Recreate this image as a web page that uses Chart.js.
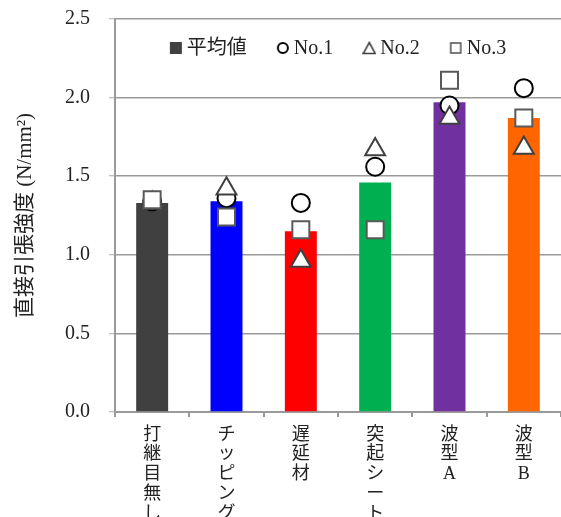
<!DOCTYPE html>
<html>
<head>
<meta charset="utf-8">
<script src="https://cdn.jsdelivr.net/npm/chart.js@4/dist/chart.umd.min.js"></script>
<style>
  html, body { margin: 0; padding: 0; background: #fff; }
  #wrap { width: 561px; height: 517px; }
</style>
</head>
<body>
<div id="wrap"><canvas id="c" width="561" height="517"></canvas></div>
<script>
// ---- data ----
const categories = ['打継目無し', 'チッピング', '遅延材', '突起シート', '波型A', '波型B'];
const seriesNames = ['平均値', 'No.1', 'No.2', 'No.3'];
const meanValues = [1.33, 1.34, 1.15, 1.46, 1.97, 1.87];
const no1Values  = [1.34, 1.36, 1.33, 1.56, 1.95, 2.06];
const no2Values  = [1.33, 1.42, 0.96, 1.67, 1.87, 1.68];
const no3Values  = [1.35, 1.24, 1.16, 1.16, 2.11, 1.87];
const yTicks     = [0.0, 0.5, 1.0, 1.5, 2.0, 2.5];
const yTitle     = '直接引張強度 (N/mm²)';

// ---- styles ----
const barColors = ['#404040', '#0000FF', '#FF0000', '#00B050', '#7030A0', '#FF6600'];
const FONT = "'Liberation Serif', 'Noto Sans CJK JP', serif";
const GRID = '#9a9a9a';

function legendMarker(kind) {
  const cv = document.createElement('canvas');
  cv.width = 14; cv.height = 14;
  const g = cv.getContext('2d');
  g.lineWidth = 1.6;
  if (kind === 'bar') {
    g.fillStyle = '#404040';
    g.fillRect(1, 1, 12, 12);
  } else if (kind === 'circle') {
    g.fillStyle = '#fff'; g.strokeStyle = '#000'; g.lineWidth = 2;
    g.beginPath(); g.arc(7, 7, 5, 0, Math.PI * 2); g.fill(); g.stroke();
  } else if (kind === 'triangle') {
    g.fillStyle = '#fff'; g.strokeStyle = '#404040';
    g.beginPath(); g.moveTo(7, 1.5); g.lineTo(13, 12.5); g.lineTo(1, 12.5); g.closePath(); g.fill(); g.stroke();
  } else {
    g.fillStyle = '#fff'; g.strokeStyle = '#595959';
    g.fillRect(2, 2, 10, 10); g.strokeRect(2, 2, 10, 10);
  }
  return cv;
}
const legendMarkers = [legendMarker('bar'), legendMarker('circle'), legendMarker('triangle'), legendMarker('rect')];

// Legend drawn inside the plot area (horizontal row near the top)
const insideLegend = {
  id: 'insideLegend',
  afterDatasetsDraw(chart) {
    const ctx = chart.ctx;
    const area = chart.chartArea;
    const markerGap = 5, itemGap = 30, markerW = 12;
    ctx.save();
    ctx.font = "20px " + FONT;
    ctx.textBaseline = 'middle';
    ctx.fillStyle = '#222';
    const names = chart.data.datasets.map(d => d.label);
    const widths = names.map(t => markerW + markerGap + ctx.measureText(t).width);
    const total = widths.reduce((a, b) => a + b, 0) + itemGap * (names.length - 1);
    let x = (area.left + area.right) / 2 - total / 2;
    const y = area.top + 29;
    names.forEach((t, i) => {
      const m = legendMarkers[i];
      ctx.drawImage(m, x + markerW / 2 - m.width / 2, y - m.height / 2);
      ctx.fillText(t, x + markerW + markerGap, y + 1);
      x += widths[i] + itemGap;
    });
    ctx.restore();
  }
};

const pointDs = (label, data, style, radius, border, order) => ({
  type: 'line', label, data, showLine: false, order,
  pointStyle: style, pointRadius: radius, pointHoverRadius: radius,
  pointBackgroundColor: '#ffffff', pointBorderColor: border, pointBorderWidth: 2
});

new Chart(document.getElementById('c'), {
  type: 'bar',
  plugins: [insideLegend],
  data: {
    labels: categories,
    datasets: [
      { type: 'bar', label: seriesNames[0], data: meanValues, backgroundColor: barColors,
        borderWidth: 0, barPercentage: 0.43, categoryPercentage: 1.0, order: 4 },
      pointDs(seriesNames[1], no1Values, 'circle', 9, '#000000', 3),
      pointDs(seriesNames[2], no2Values, 'triangle', 11.5, '#404040', 2),
      pointDs(seriesNames[3], no3Values, 'rect', 12, '#595959', 1)
    ]
  },
  options: {
    responsive: false,
    animation: false,
    devicePixelRatio: 1,
    layout: { autoPadding: false, padding: { top: 19, right: -1, bottom: 0, left: 0 } },
    plugins: {
      tooltip: { enabled: false },
      legend: { display: false }
    },
    scales: {
      x: {
        type: 'category',
        offset: true,
        border: { display: true, color: GRID, width: 2 },
        grid: { display: true, offset: true, drawOnChartArea: false, drawTicks: true, tickLength: 5, color: GRID, lineWidth: 2 },
        ticks: {
          color: '#222', padding: 8, maxRotation: 0, minRotation: 0, autoSkip: false,
          font: { family: FONT, size: 18, lineHeight: 1.1 },
          callback: (v, i) => Array.from(categories[i])
        },
        afterFit: (s) => { s.height = 105; }
      },
      y: {
        min: 0, max: 2.5,
        afterBuildTicks: (s) => { s.ticks = yTicks.map(v => ({ value: v })); },
        border: { display: true, color: GRID, width: 2 },
        grid: {
          color: GRID, lineWidth: 1.5, drawTicks: true, tickLength: 18,
          tickColor: '#aaa', tickWidth: 1, tickBorderDash: [6, 12], tickBorderDashOffset: 6
        },
        ticks: {
          color: '#222', padding: 7,
          font: { family: FONT, size: 20 },
          callback: (v) => Number(v).toFixed(1)
        },
        title: {
          display: true, text: yTitle, color: '#222',
          font: { family: FONT, size: 21 }, padding: { top: 13, bottom: 0 }
        },
        afterFit: (s) => { s.width = 115; }
      }
    }
  }
});
</script>
</body>
</html>
